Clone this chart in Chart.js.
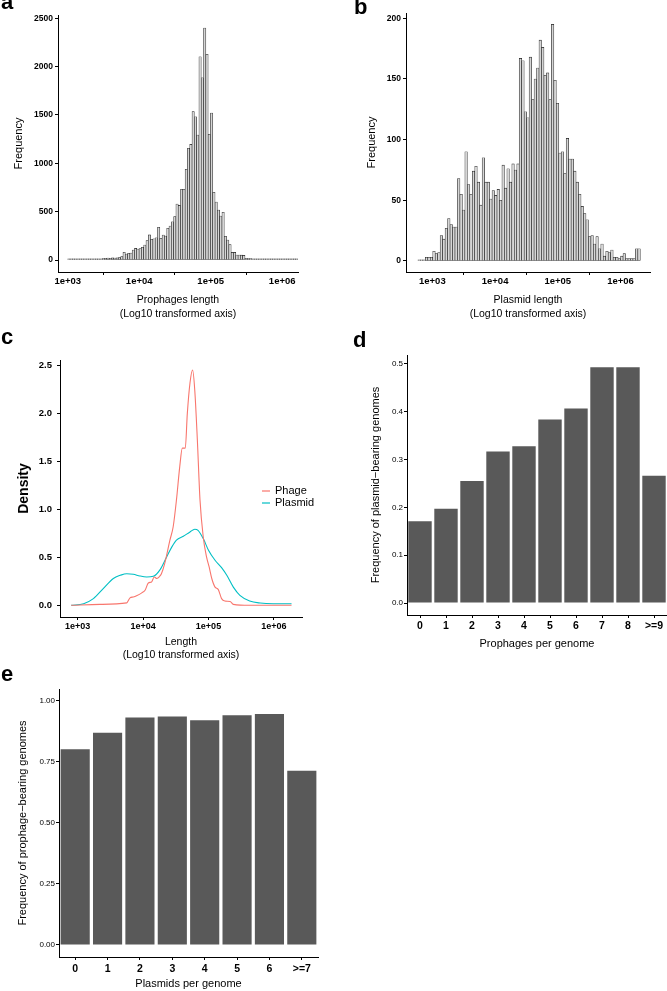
<!DOCTYPE html>
<html>
<head>
<meta charset="utf-8">
<title>Prophage and plasmid length distributions</title>
<script src="https://cdn.jsdelivr.net/npm/chart.js@4.4.0/dist/chart.umd.min.js"></script>
<style>
    body { margin: 0; background: #fff; }
    #page { position: relative; width: 667px; height: 991px; overflow: hidden; }
    canvas { position: absolute; }
    .letter {
        position: absolute;
        font: bold 22px 'Liberation Sans', Arial, sans-serif;
        line-height: 22px;
        color: #000;
    }
</style>
</head>
<body>
<div id="page">
    <canvas id="chart-a" width="333" height="330" style="left:0;top:0"></canvas>
    <canvas id="chart-b" width="334" height="330" style="left:333px;top:0"></canvas>
    <canvas id="chart-c" width="333" height="335" style="left:0;top:330px"></canvas>
    <canvas id="chart-d" width="334" height="330" style="left:333px;top:330px"></canvas>
    <canvas id="chart-e" width="340" height="351" style="left:0;top:640px"></canvas>
    <div class="letter" style="left:1px;top:-9px">a</div>
    <div class="letter" style="left:354px;top:-4px">b</div>
    <div class="letter" style="left:1px;top:326px">c</div>
    <div class="letter" style="left:353px;top:329px">d</div>
    <div class="letter" style="left:1px;top:663px">e</div>
</div>
<script>
// ---- data ----

// a: prophage length histogram, bins on log10(length)
const prophageBinStart = 3.0;
const prophageBinWidth = 0.0322;
const prophageCounts = [
    1, 1, 1, 2, 2, 2, 3, 3, 4, 4, 5, 6, 8, 10, 12, 14, 17, 20, 18, 22, 20, 22,
    24, 35, 80, 62, 69, 72, 103, 120, 114, 118, 131, 155, 200, 260, 214, 220, 230, 338, 224, 259, 248,
    328, 351, 396, 448, 579, 565, 731, 731, 938, 1155, 1196, 1534, 1482, 1293, 2102, 1885, 2400,
    2127, 1300, 1520, 700, 600, 517, 455, 493, 245, 207, 159, 79, 79, 52, 52, 50, 48, 17, 15, 14, 10,
    9, 8, 7, 6, 6, 5, 5, 4, 4, 3, 3, 3, 2, 3, 2, 2, 1, 2, 1
];
const prophageYTicks = [0, 500, 1000, 1500, 2000, 2500];

// b: plasmid length histogram, bins on log10(length)
const plasmidBinStart = 2.77;
const plasmidBinWidth = 0.0394;
const plasmidCounts = [
    1, 1, 1, 3, 3, 3, 8, 6, 7, 21, 18, 27, 35, 30, 28, 28, 68, 55, 42, 90,
    63, 55, 74, 78, 65, 46, 85, 65, 65, 51, 58, 54, 59, 50, 79, 60, 76, 65, 80, 75,
    80, 167, 165, 123, 118, 168, 133, 150, 159, 182, 176, 153, 155, 133, 195, 149, 130, 89, 90, 72,
    101, 84, 84, 74, 65, 55, 45, 39, 34, 20, 21, 14, 20, 10, 14, 4, 8, 7, 9, 3,
    3, 2, 4, 6, 2, 2, 2, 2, 10, 10
];
const plasmidYTicks = [0, 50, 100, 150, 200];

// shared log10 x axis
const logTicks = [3, 4, 5, 6];
const logTickLabels = ['1e+03', '1e+04', '1e+05', '1e+06'];

// c: density of log10(length)
const phageLogLength = [2.9, 3.34, 3.75, 3.77, 3.8, 3.85, 3.9, 3.98, 4.03, 4.08, 4.13, 4.17, 4.21, 4.25, 4.28,
    4.33, 4.41, 4.46, 4.51, 4.56, 4.6, 4.645, 4.676, 4.717, 4.757, 4.79, 4.83, 4.87, 4.92, 4.97,
    5.01, 5.05, 5.1, 5.15, 5.2, 5.25, 5.33, 5.38, 5.63, 6.27];
const phageDensity = [0, 0.01, 0.025, 0.045, 0.077, 0.087, 0.1, 0.13, 0.157, 0.233, 0.244, 0.296, 0.28, 0.3, 0.33,
    0.435, 0.68, 0.82, 1.1, 1.445, 1.64, 1.64, 2.0, 2.32, 2.455, 2.245, 1.72, 1.1, 0.71, 0.505,
    0.4, 0.28, 0.19, 0.164, 0.07, 0.045, 0.04, 0.01, 0, 0];
const plasmidLogLength = [2.9, 3.09, 3.24, 3.39, 3.545, 3.65, 3.75, 3.85, 3.95, 4.055, 4.156, 4.26, 4.36, 4.44, 4.51,
    4.615, 4.717, 4.79, 4.84, 4.92, 5.0, 5.1, 5.2, 5.28, 5.38, 5.48, 5.63, 5.79, 5.99, 6.27];
const plasmidDensity = [0, 0.017, 0.07, 0.174, 0.28, 0.313, 0.33, 0.324, 0.306, 0.296, 0.303, 0.373, 0.505, 0.61, 0.68,
    0.72, 0.766, 0.794, 0.783, 0.696, 0.575, 0.47, 0.393, 0.313, 0.19, 0.104, 0.045, 0.024, 0.017, 0.017];
const densityYTicks = [0, 0.5, 1, 1.5, 2, 2.5];

// d: plasmid-bearing frequency by prophage count
const prophageCategories = ['0', '1', '2', '3', '4', '5', '6', '7', '8', '>=9'];
const plasmidBearingFreq = [0.171, 0.197, 0.255, 0.317, 0.328, 0.384, 0.407, 0.493, 0.493, 0.266];
const plasmidBearingYTicks = [0, 0.1, 0.2, 0.3, 0.4, 0.5];

// e: prophage-bearing frequency by plasmid count
const plasmidCategories = ['0', '1', '2', '3', '4', '5', '6', '>=7'];
const prophageBearingFreq = [0.802, 0.870, 0.932, 0.936, 0.921, 0.941, 0.947, 0.714];
const prophageBearingYTicks = [0, 0.25, 0.5, 0.75, 1];

// ---- shared styling ----
const FONT = "'Liberation Sans', Arial, sans-serif";
Chart.defaults.font.family = FONT;
Chart.defaults.color = '#000';
Chart.defaults.animation = false;
Chart.defaults.responsive = false;
Chart.defaults.devicePixelRatio = 1;
Chart.defaults.plugins.legend.display = false;
Chart.defaults.plugins.tooltip.enabled = false;

// force tick positions, like ggplot breaks
function fixTicks(values) {
    return scale => { scale.ticks = values.map(v => ({ value: v })); };
}

// ggplot classic axis: black line, short outside ticks, no grid
function axisLines() {
    return {
        border: { display: true, color: '#000', width: 1 },
        grid: { drawOnChartArea: false, drawTicks: true, tickLength: 3, color: '#000', lineWidth: 1 }
    };
}

function logXAxis(min, max, height, tickSize, title, titleSize, lineHeight, titlePad) {
    return {
        type: 'linear',
        min: min,
        max: max,
        offset: false,
        ...axisLines(),
        afterBuildTicks: fixTicks(logTicks),
        afterFit: scale => { scale.height = height; },
        ticks: {
            padding: 1,
            maxRotation: 0,
            font: { size: tickSize, weight: 'bold' },
            callback: v => logTickLabels[logTicks.indexOf(v)]
        },
        title: {
            display: true,
            text: title,
            font: { size: titleSize, lineHeight: lineHeight },
            padding: { top: 0, bottom: titlePad }
        }
    };
}

function valueYAxis(min, max, tickValues, width, tickFont, fmt, title, titleFont, titlePad, labelPad) {
    return {
        min: min,
        max: max,
        ...axisLines(),
        afterBuildTicks: fixTicks(tickValues),
        afterFit: scale => { scale.width = width; },
        ticks: { padding: labelPad, font: tickFont, callback: fmt },
        title: { display: true, text: title, font: titleFont, padding: { top: titlePad, bottom: 0 } }
    };
}

// Histogram of log10 lengths, bars drawn on a linear log10 scale
function drawHistogram(id, binStart, binWidth, counts, opts) {
    const points = counts.map((c, i) => ({ x: binStart + (i + 0.5) * binWidth, y: c }));
    return new Chart(document.getElementById(id), {
        type: 'bar',
        data: {
            datasets: [{
                data: points,
                backgroundColor: '#d6d6d6',
                borderColor: '#1e1e1e',
                borderWidth: 0.6,
                borderSkipped: false,
                minBarLength: 1.2,
                barPercentage: 1,
                categoryPercentage: 1
            }]
        },
        options: {
            layout: { padding: opts.padding },
            scales: {
                x: logXAxis(opts.xMin, opts.xMax, opts.xHeight, 9.5, opts.xTitle, 10.5, 1.33, 9),
                y: valueYAxis(opts.yMin, opts.yMax, opts.yTicks, opts.yWidth,
                    { size: 8.5, weight: 'bold' }, v => v,
                    'Frequency', { size: 11 }, opts.yTitlePad, 2)
            }
        }
    });
}

// Bar chart of a frequency per category
function drawFrequencyBars(id, categories, values, opts) {
    return new Chart(document.getElementById(id), {
        type: 'bar',
        data: {
            labels: categories,
            datasets: [{
                data: values,
                backgroundColor: '#595959',
                barPercentage: 0.9,
                categoryPercentage: 1
            }]
        },
        options: {
            layout: { padding: opts.padding },
            scales: {
                x: {
                    type: 'category',
                    border: { display: true, color: '#000', width: 1 },
                    grid: { offset: false, drawOnChartArea: false, drawTicks: true, tickLength: 3, color: '#000' },
                    afterFit: scale => { scale.height = opts.xHeight; },
                    ticks: { padding: opts.xLabelPad, maxRotation: 0, font: { size: 10.5, weight: 'bold' } },
                    title: {
                        display: true,
                        text: opts.xTitle,
                        font: { size: 11 },
                        padding: { top: 0, bottom: opts.xTitlePad }
                    }
                },
                y: valueYAxis(opts.yMin, opts.yMax, opts.yTicks, opts.yWidth,
                    { size: 8 }, opts.yFormat,
                    opts.yTitle, { size: 11 }, opts.yTitlePad, 1)
            }
        }
    });
}

// Legend drawn inside the plot area, to the right of the curves
const insideLegend = {
    id: 'insideLegend',
    afterDraw(chart, args, opts) {
        const { ctx, chartArea } = chart;
        ctx.save();
        ctx.font = '11px ' + FONT;
        ctx.textBaseline = 'middle';
        chart.data.datasets.forEach((ds, i) => {
            const x = chartArea.left + opts.dx;
            const y = chartArea.top + opts.dy + i * opts.rowHeight;
            ctx.strokeStyle = ds.borderColor;
            ctx.lineWidth = 1.2;
            ctx.beginPath();
            ctx.moveTo(x, y);
            ctx.lineTo(x + 8, y);
            ctx.stroke();
            ctx.fillStyle = '#000';
            ctx.fillText(ds.label, x + 13, y);
        });
        ctx.restore();
    }
};

// ---- a ----
drawHistogram('chart-a', prophageBinStart, prophageBinWidth, prophageCounts, {
    padding: { left: 0, top: 15, right: 35, bottom: 0 },
    xMin: 2.864, xMax: 6.221, xHeight: 58,
    xTitle: ['Prophages length', '(Log10 transformed axis)'],
    yMin: -124, yMax: 2534, yTicks: prophageYTicks, yWidth: 58, yTitlePad: 12
});

// ---- b ----
drawHistogram('chart-b', plasmidBinStart, plasmidBinWidth, plasmidCounts, {
    padding: { left: 0, top: 13, right: 17, bottom: 0 },
    xMin: 2.58, xMax: 6.47, xHeight: 58,
    xTitle: ['Plasmid length', '(Log10 transformed axis)'],
    yMin: -9.1, yMax: 204.4, yTicks: plasmidYTicks, yWidth: 73, yTitlePad: 32
});

// ---- c ----
new Chart(document.getElementById('chart-c'), {
    type: 'line',
    data: {
        datasets: [
            {
                label: 'Phage',
                data: phageLogLength.map((x, i) => ({ x: x, y: phageDensity[i] })),
                borderColor: '#F8766D',
                borderWidth: 1.1,
                pointRadius: 0,
                cubicInterpolationMode: 'monotone'
            },
            {
                label: 'Plasmid',
                data: plasmidLogLength.map((x, i) => ({ x: x, y: plasmidDensity[i] })),
                borderColor: '#00BFC4',
                borderWidth: 1.1,
                pointRadius: 0,
                cubicInterpolationMode: 'monotone'
            }
        ]
    },
    options: {
        layout: { padding: { left: 0, top: 30, right: 31, bottom: 0 } },
        plugins: { insideLegend: { dx: 202, dy: 131, rowHeight: 12 } },
        scales: {
            x: logXAxis(2.729, 6.43, 48, 9, ['Length', '(Log10 transformed axis)'], 10.5, 1.2, 4),
            y: valueYAxis(-0.122, 2.56, densityYTicks, 60,
                { size: 9.5, weight: 'bold' }, v => v.toFixed(1),
                'Density', { size: 14, weight: 'bold' }, 16, 5)
        }
    },
    plugins: [insideLegend]
});

// ---- d ----
drawFrequencyBars('chart-d', prophageCategories, plasmidBearingFreq, {
    padding: { left: 0, top: 25, right: 0, bottom: 0 },
    xHeight: 45, xLabelPad: 2, xTitle: 'Prophages per genome', xTitlePad: 9,
    yMin: -0.0251, yMax: 0.5188, yTicks: plasmidBearingYTicks, yWidth: 74,
    yFormat: v => v.toFixed(1),
    yTitle: 'Frequency of plasmid\u2212bearing genomes', yTitlePad: 36
});

// ---- e ----
drawFrequencyBars('chart-e', plasmidCategories, prophageBearingFreq, {
    padding: { left: 0, top: 49, right: 22, bottom: 0 },
    xHeight: 34, xLabelPad: 3, xTitle: 'Plasmids per genome', xTitlePad: 0,
    yMin: -0.0492, yMax: 1.049, yTicks: prophageBearingYTicks, yWidth: 59,
    yFormat: v => v.toFixed(2),
    yTitle: 'Frequency of prophage\u2212bearing genomes', yTitlePad: 16
});
</script>
</body>
</html>
